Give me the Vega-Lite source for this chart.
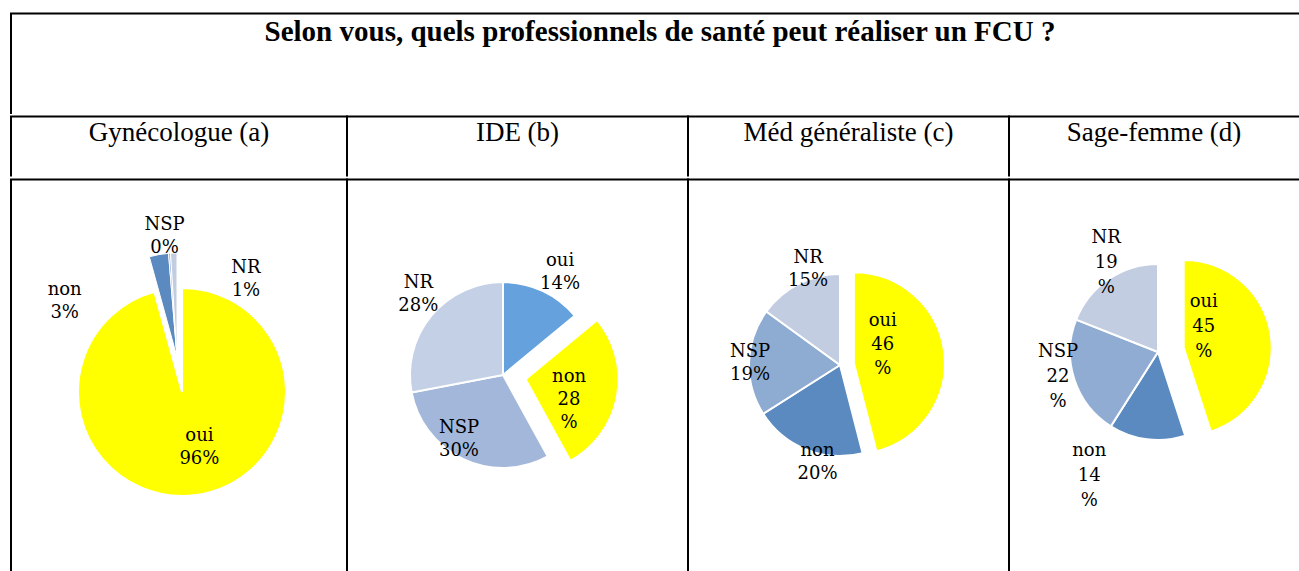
{
  "$schema": "https://vega.github.io/schema/vega-lite/v6.json",
  "background": "white",
  "padding": {"left": 9, "top": 11.5, "right": 0, "bottom": 0},
  "config": {"view": {"stroke": null}, "concat": {"spacing": 0}},
  "spacing": 0,
  "resolve": {"scale": {"color": "independent", "theta": "independent"}},
  "vconcat": [
    {
      "width": 1288, "height": 99.5,
      "view": {"stroke": "black", "strokeWidth": 2, "strokeCap": "square", "strokeDash": [1288, 1387.5, 99.5]},
      "data": {"values": [{"t": "Selon vous, quels professionnels de santé peut réaliser un FCU ?"}]},
      "mark": {"type": "text", "font": "Liberation Serif", "fontSize": 29, "fontWeight": "bold", "baseline": "alphabetic", "dy": -22.5, "dx": 5, "color": "black"},
      "encoding": {"text": {"field": "t", "type": "nominal"}}
    },
    {
      "spacing": 0,
      "bounds": "flush",
      "hconcat": [
        {
          "width": 336, "height": 59,
          "view": {"stroke": "black", "strokeWidth": 2, "strokeCap": "square", "strokeDash": [336, 395, 59]},
          "data": {"values": [{"h": "Gynécologue (a)"}]},
          "mark": {"type": "text", "font": "Liberation Serif", "fontSize": 27, "baseline": "alphabetic", "dy": -5, "color": "black"},
          "encoding": {"text": {"field": "h", "type": "nominal"}}
        },
        {
          "width": 341, "height": 59,
          "view": {"stroke": "black", "strokeWidth": 2, "strokeCap": "square", "strokeDash": [341, 400, 59]},
          "data": {"values": [{"h": "IDE (b)"}]},
          "mark": {"type": "text", "font": "Liberation Serif", "fontSize": 27, "baseline": "alphabetic", "dy": -5, "color": "black"},
          "encoding": {"text": {"field": "h", "type": "nominal"}}
        },
        {
          "width": 321, "height": 59,
          "view": {"stroke": "black", "strokeWidth": 2, "strokeCap": "square", "strokeDash": [321, 380, 59]},
          "data": {"values": [{"h": "Méd généraliste (c)"}]},
          "mark": {"type": "text", "font": "Liberation Serif", "fontSize": 27, "baseline": "alphabetic", "dy": -5, "color": "black"},
          "encoding": {"text": {"field": "h", "type": "nominal"}}
        },
        {
          "width": 290, "height": 59,
          "view": {"stroke": "black", "strokeWidth": 2, "strokeCap": "square", "strokeDash": [290, 349, 59]},
          "data": {"values": [{"h": "Sage-femme (d)"}]},
          "mark": {"type": "text", "font": "Liberation Serif", "fontSize": 27, "baseline": "alphabetic", "dy": -5, "color": "black"},
          "encoding": {"text": {"field": "h", "type": "nominal"}}
        }
      ]
    },
    {
      "spacing": 0,
      "bounds": "flush",
      "resolve": {"scale": {"color": "independent", "theta": "independent"}},
      "hconcat": [
        {
          "width": 336, "height": 392,
          "view": {"stroke": "black", "strokeWidth": 2, "strokeCap": "square", "strokeDash": [336, 728, 392]},
          "data": {"values": [
            {"cat": "oui", "value": 96, "label": "oui\n96%", "rank": 1},
            {"cat": "non", "value": 3, "label": "non\n3%", "rank": 2},
            {"cat": "NSP", "value": 0.3, "label": "NSP\n0%", "rank": 3},
            {"cat": "NR", "value": 1, "label": "NR\n1%", "rank": 4}
          ]},
          "encoding": {
            "theta": {"field": "value", "type": "quantitative", "stack": true},
            "order": {"field": "rank", "type": "quantitative"},
            "color": {"field": "cat", "type": "nominal", "scale": {"domain": ["oui", "non", "NSP", "NR"], "range": ["#FFFF00", "#5A8ABF", "#8EABD1", "#C2CDE2"]}, "legend": null}
          },
          "layer": [
            {"mark": {"type": "arc", "radius": 104, "stroke": "white", "strokeWidth": 2, "xOffset": 3, "yOffset": 16.5},
             "encoding": {"opacity": {"condition": {"test": "datum.cat === 'oui'", "value": 1}, "value": 0}}},
            {"mark": {"type": "arc", "radius": 104, "stroke": "white", "strokeWidth": 1, "xOffset": -2, "yOffset": -18.5},
             "encoding": {"opacity": {"condition": {"test": "datum.cat === 'oui'", "value": 0}, "value": 1}}},
            {"mark": {"type": "text", "radius": 58, "thetaOffset": -0.17, "xOffset": 3, "yOffset": 16.5, "dy": -11.5, "font": "DejaVu Serif", "fontSize": 18, "lineHeight": 23, "lineBreak": "\n"},
             "encoding": {"color": {"value": "black"}, "text": {"condition": {"test": "datum.cat === 'oui'", "field": "label"}, "value": ""}}},
            {"mark": {"type": "text", "radius": 148, "thetaOffset": -0.74, "xOffset": 3, "yOffset": 16.5, "dy": -11.5, "font": "DejaVu Serif", "fontSize": 18, "lineHeight": 23, "lineBreak": "\n"},
             "encoding": {"color": {"value": "black"}, "text": {"condition": {"test": "datum.cat === 'non'", "field": "label"}, "value": ""}}},
            {"mark": {"type": "text", "radius": 156, "thetaOffset": -0.04, "xOffset": 3, "yOffset": 16.5, "dy": -11.5, "font": "DejaVu Serif", "fontSize": 18, "lineHeight": 23, "lineBreak": "\n"},
             "encoding": {"color": {"value": "black"}, "text": {"condition": {"test": "datum.cat === 'NSP'", "field": "label"}, "value": ""}}},
            {"mark": {"type": "text", "radius": 129, "thetaOffset": 0.55, "xOffset": 3, "yOffset": 16.5, "dy": -11.5, "font": "DejaVu Serif", "fontSize": 18, "lineHeight": 23, "lineBreak": "\n"},
             "encoding": {"color": {"value": "black"}, "text": {"condition": {"test": "datum.cat === 'NR'", "field": "label"}, "value": ""}}}
          ]
        },
        {
          "width": 341, "height": 392,
          "view": {"stroke": "black", "strokeWidth": 2, "strokeCap": "square", "strokeDash": [341, 733, 392]},
          "data": {"values": [
            {"cat": "oui", "value": 14, "label": "oui\n14%", "rank": 1},
            {"cat": "non", "value": 28, "label": "non\n28\n%", "rank": 2},
            {"cat": "NSP", "value": 30, "label": "NSP\n30%", "rank": 3},
            {"cat": "NR", "value": 28, "label": "NR\n28%", "rank": 4}
          ]},
          "encoding": {
            "theta": {"field": "value", "type": "quantitative", "stack": true},
            "order": {"field": "rank", "type": "quantitative"},
            "color": {"field": "cat", "type": "nominal", "scale": {"domain": ["oui", "non", "NSP", "NR"], "range": ["#64A1DD", "#FFFF00", "#A2B7D9", "#C4D0E5"]}, "legend": null}
          },
          "layer": [
            {"mark": {"type": "arc", "radius": 93, "stroke": "white", "strokeWidth": 2, "xOffset": -14.5, "yOffset": -0.5},
             "encoding": {"opacity": {"condition": {"test": "datum.cat === 'non'", "value": 0}, "value": 1}}},
            {"mark": {"type": "arc", "radius": 93, "stroke": "white", "strokeWidth": 2, "xOffset": 8.1, "yOffset": 3.8},
             "encoding": {"opacity": {"condition": {"test": "datum.cat === 'non'", "value": 1}, "value": 0}}},
            {"mark": {"type": "text", "radius": 117, "thetaOffset": 0.07, "xOffset": -14.5, "yOffset": -0.5, "dy": -11.5, "font": "DejaVu Serif", "fontSize": 18, "lineHeight": 23, "lineBreak": "\n"},
             "encoding": {"color": {"value": "black"}, "text": {"condition": {"test": "datum.cat === 'oui' || datum.cat === 'NR'", "field": "label"}, "value": ""}}},
            {"mark": {"type": "text", "radius": 78, "thetaOffset": 0.16, "xOffset": -14.5, "yOffset": -0.5, "dy": -11.5, "font": "DejaVu Serif", "fontSize": 18, "lineHeight": 23, "lineBreak": "\n"},
             "encoding": {"color": {"value": "black"}, "text": {"condition": {"test": "datum.cat === 'NSP'", "field": "label"}, "value": ""}}},
            {"mark": {"type": "text", "radius": 48, "thetaOffset": 0.25, "xOffset": 8.1, "yOffset": 3.8, "dy": -23, "font": "DejaVu Serif", "fontSize": 18, "lineHeight": 23, "lineBreak": "\n"},
             "encoding": {"color": {"value": "black"}, "text": {"condition": {"test": "datum.cat === 'non'", "field": "label"}, "value": ""}}}
          ]
        },
        {
          "width": 321, "height": 392,
          "view": {"stroke": "black", "strokeWidth": 2, "strokeCap": "square", "strokeDash": [321, 713, 392]},
          "data": {"values": [
            {"cat": "oui", "value": 46, "label": "oui\n46\n%", "rank": 1},
            {"cat": "non", "value": 20, "label": "non\n20%", "rank": 2},
            {"cat": "NSP", "value": 19, "label": "NSP\n19%", "rank": 3},
            {"cat": "NR", "value": 15, "label": "NR\n15%", "rank": 4}
          ]},
          "encoding": {
            "theta": {"field": "value", "type": "quantitative", "stack": true},
            "order": {"field": "rank", "type": "quantitative"},
            "color": {"field": "cat", "type": "nominal", "scale": {"domain": ["oui", "non", "NSP", "NR"], "range": ["#FFFF00", "#5A8ABF", "#8EABD1", "#C2CDE2"]}, "legend": null}
          },
          "layer": [
            {"mark": {"type": "arc", "radius": 91, "stroke": "white", "strokeWidth": 2, "xOffset": -8.5, "yOffset": -10.5},
             "encoding": {"opacity": {"condition": {"test": "datum.cat === 'oui'", "value": 0}, "value": 1}}},
            {"mark": {"type": "arc", "radius": 91, "stroke": "white", "strokeWidth": 2, "xOffset": 5.4, "yOffset": -12.25},
             "encoding": {"opacity": {"condition": {"test": "datum.cat === 'oui'", "value": 1}, "value": 0}}},
            {"mark": {"type": "text", "radius": 34, "thetaOffset": -0.43, "xOffset": 5.4, "yOffset": -12.25, "dy": -24, "font": "DejaVu Serif", "fontSize": 18, "lineHeight": 24, "lineBreak": "\n"},
             "encoding": {"color": {"value": "black"}, "text": {"condition": {"test": "datum.cat === 'oui'", "field": "label"}, "value": ""}}},
            {"mark": {"type": "text", "radius": 100, "thetaOffset": -0.15, "xOffset": -8.5, "yOffset": -10.5, "dy": -11.5, "font": "DejaVu Serif", "fontSize": 18, "lineHeight": 23, "lineBreak": "\n"},
             "encoding": {"color": {"value": "black"}, "text": {"condition": {"test": "datum.cat === 'non'", "field": "label"}, "value": ""}}},
            {"mark": {"type": "text", "radius": 90, "thetaOffset": -0.02, "xOffset": -8.5, "yOffset": -10.5, "dy": -11.5, "font": "DejaVu Serif", "fontSize": 18, "lineHeight": 23, "lineBreak": "\n"},
             "encoding": {"color": {"value": "black"}, "text": {"condition": {"test": "datum.cat === 'NSP'", "field": "label"}, "value": ""}}},
            {"mark": {"type": "text", "radius": 101, "thetaOffset": 0.15, "xOffset": -8.5, "yOffset": -10.5, "dy": -11.5, "font": "DejaVu Serif", "fontSize": 18, "lineHeight": 23, "lineBreak": "\n"},
             "encoding": {"color": {"value": "black"}, "text": {"condition": {"test": "datum.cat === 'NR'", "field": "label"}, "value": ""}}}
          ]
        },
        {
          "width": 290, "height": 392,
          "view": {"stroke": "black", "strokeWidth": 2, "strokeCap": "square", "strokeDash": [290, 682, 392]},
          "data": {"values": [
            {"cat": "oui", "value": 45, "label": "oui\n45\n%", "rank": 1},
            {"cat": "non", "value": 14, "label": "non\n14\n%", "rank": 2},
            {"cat": "NSP", "value": 22, "label": "NSP\n22\n%", "rank": 3},
            {"cat": "NR", "value": 19, "label": "NR\n19\n%", "rank": 4}
          ]},
          "encoding": {
            "theta": {"field": "value", "type": "quantitative", "stack": true},
            "order": {"field": "rank", "type": "quantitative"},
            "color": {"field": "cat", "type": "nominal", "scale": {"domain": ["oui", "non", "NSP", "NR"], "range": ["#FFFF00", "#5A8ABF", "#90ACD2", "#C2CDE2"]}, "legend": null}
          },
          "layer": [
            {"mark": {"type": "arc", "radius": 88, "stroke": "white", "strokeWidth": 2, "xOffset": 4, "yOffset": -23.5},
             "encoding": {"opacity": {"condition": {"test": "datum.cat === 'oui'", "value": 0}, "value": 1}}},
            {"mark": {"type": "arc", "radius": 88, "stroke": "white", "strokeWidth": 2, "xOffset": 29.7, "yOffset": -27.6},
             "encoding": {"opacity": {"condition": {"test": "datum.cat === 'oui'", "value": 1}, "value": 0}}},
            {"mark": {"type": "text", "radius": 29, "thetaOffset": -0.65, "xOffset": 29.7, "yOffset": -27.6, "dy": -25, "font": "DejaVu Serif", "fontSize": 18, "lineHeight": 25, "lineBreak": "\n"},
             "encoding": {"color": {"value": "black"}, "text": {"condition": {"test": "datum.cat === 'oui'", "field": "label"}, "value": ""}}},
            {"mark": {"type": "text", "radius": 142, "thetaOffset": 0.38, "xOffset": 4, "yOffset": -23.5, "dy": -25, "font": "DejaVu Serif", "fontSize": 18, "lineHeight": 25, "lineBreak": "\n"},
             "encoding": {"color": {"value": "black"}, "text": {"condition": {"test": "datum.cat === 'non'", "field": "label"}, "value": ""}}},
            {"mark": {"type": "text", "radius": 103, "thetaOffset": 0.07, "xOffset": 4, "yOffset": -23.5, "dy": -25, "font": "DejaVu Serif", "fontSize": 18, "lineHeight": 25, "lineBreak": "\n"},
             "encoding": {"color": {"value": "black"}, "text": {"condition": {"test": "datum.cat === 'NSP' || datum.cat === 'NR'", "field": "label"}, "value": ""}}}
          ]
        }
      ]
    }
  ]
}
